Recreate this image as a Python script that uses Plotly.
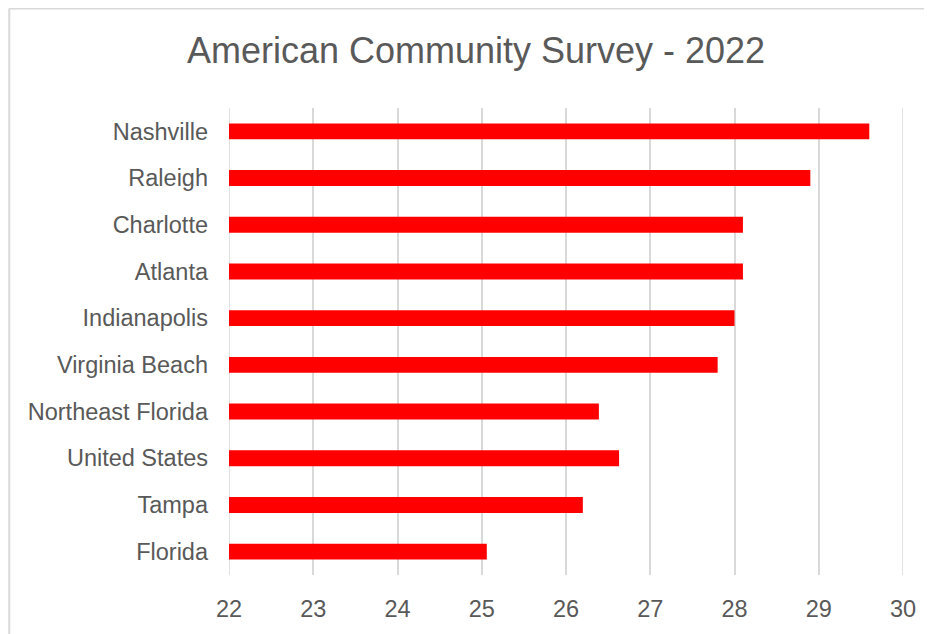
import plotly.graph_objects as go

categories = ["Nashville", "Raleigh", "Charlotte", "Atlanta", "Indianapolis",
              "Virginia Beach", "Northeast Florida", "United States", "Tampa", "Florida"]
values = [29.6, 28.9, 28.1, 28.1, 28.0, 27.8, 26.39, 26.63, 26.2, 25.06]
x_ticks = [22, 23, 24, 25, 26, 27, 28, 29, 30]
title_text = "American Community Survey - 2022"
axis_min = x_ticks[0]
axis_max = x_ticks[-1]

fig = go.Figure(go.Bar(
    y=categories,
    x=[v - axis_min for v in values],
    base=axis_min,
    orientation="h",
    marker=dict(color="#ff0000", line=dict(width=0)),
    width=0.34,
    hoverinfo="skip",
))

grid_style = dict(color="#d9d9d9", width=1.5)

fig.update_layout(
    width=924, height=626,
    margin=dict(l=220.5, r=29, t=100, b=59),
    paper_bgcolor="white", plot_bgcolor="white",
    showlegend=False,
    title=dict(text=title_text, x=0.5065, xref="container", xanchor="center",
               y=1 - 42 / 626, yref="container", yanchor="middle",
               font=dict(family="Liberation Sans, Arial", size=36, color="#595959")),
    font=dict(family="Liberation Sans, Arial", color="#595959"),
    xaxis=dict(range=[axis_min, axis_max], tickvals=x_ticks, ticktext=[str(t) for t in x_ticks],
               showgrid=True, gridcolor="#d9d9d9", gridwidth=1.5,
               zeroline=False, showline=False, ticks="",
               tickfont=dict(size=23.5, color="#595959"), ticklabelstandoff=17),
    yaxis=dict(categoryorder="array", categoryarray=categories[::-1],
               showgrid=False, zeroline=False, showline=False, ticks="",
               tickfont=dict(size=23.5, color="#595959"), ticklabelstandoff=20),
    shapes=[
        dict(type="line", xref="x", yref="paper", x0=axis_min, x1=axis_min, y0=0, y1=1,
             line=grid_style, layer="below"),
        dict(type="line", xref="x", yref="paper", x0=axis_max, x1=axis_max, y0=0, y1=1,
             line=grid_style, layer="below"),
        dict(type="line", xref="paper", yref="paper", x0=-0.326, x1=1.2, y0=1.213, y1=1.213,
             line=dict(color="#d9d9d9", width=2)),
        dict(type="line", xref="paper", yref="paper", x0=-0.326, x1=-0.326, y0=1.213, y1=-0.3,
             line=dict(color="#d9d9d9", width=2)),
    ],
)

fig.write_html("out.html")
